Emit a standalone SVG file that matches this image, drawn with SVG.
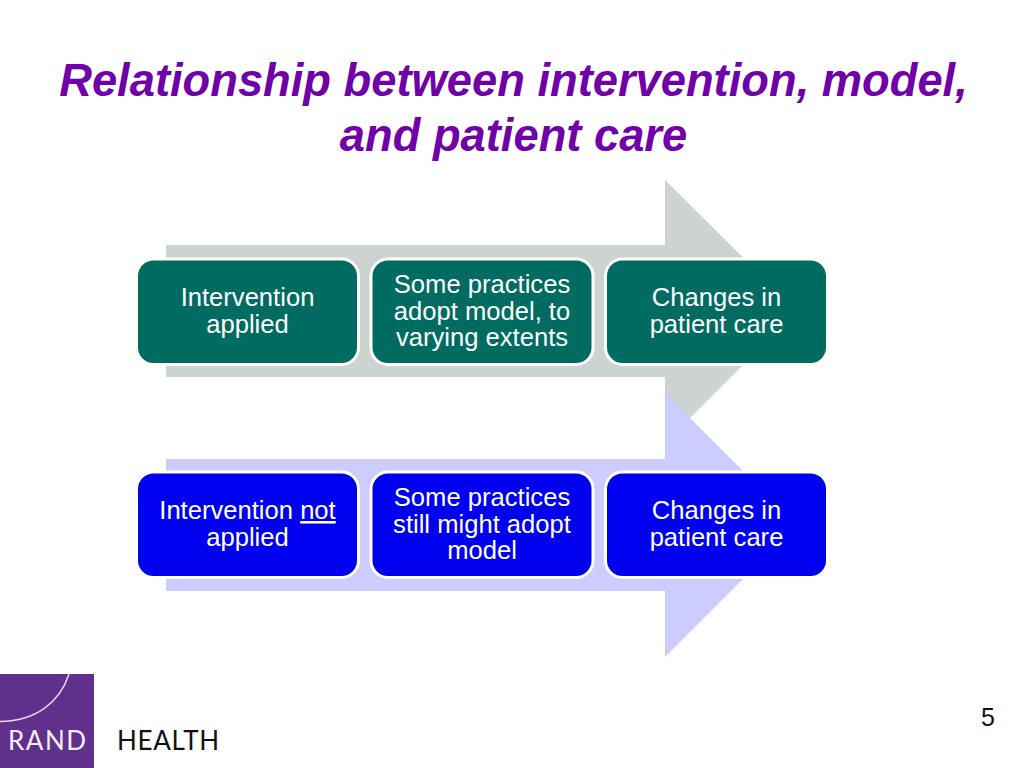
<svg xmlns="http://www.w3.org/2000/svg" width="1024" height="768" viewBox="0 0 1024 768">
<style>
text{font-family:"Liberation Sans",Arial,sans-serif}
.t{font-size:45.300px;font-weight:bold;font-style:italic;fill:#7000a8;text-anchor:middle}
.l{font-size:25.600px;fill:#fff;text-anchor:middle}
.g{fill:#006b61;stroke:#fff;stroke-width:3}
.b{fill:#0000f0;stroke:#fff;stroke-width:3}
.m{font-size:26px;font-family:Lato,sans-serif}
</style>
<rect width="1024" height="768" fill="#fff"/>
<g id="title">
<text class="t" x="513.500" y="96">Relationship between intervention, model,</text>
<text class="t" x="513.500" y="151">and patient care</text>
</g>
<g id="connectors">
<polygon fill="#ccd3d1" points="166,245 665,245 665,180 797,311 665,443 665,377 166,377"/>
<polygon fill="#ccccff" points="166,459 665,459 665,393 797,525 665,657 665,591 166,591"/>
</g>
<g id="n1"><rect class="g" x="136.500" y="259" width="222" height="105.500" rx="17"/>
<text class="l" x="247.500" y="306">Intervention</text><text class="l" x="247.500" y="333">applied</text></g>
<g id="n2"><rect class="g" x="371" y="259" width="222" height="105.500" rx="17"/>
<text class="l" x="482" y="293">Some practices</text><text class="l" x="482" y="320">adopt model, to</text><text class="l" x="482" y="346">varying extents</text></g>
<g id="n3"><rect class="g" x="605.500" y="259" width="222" height="105.500" rx="17"/>
<text class="l" x="716.500" y="306">Changes in</text><text class="l" x="716.500" y="333">patient care</text></g>
<g id="n4"><rect class="b" x="136.500" y="472" width="222" height="105.500" rx="17"/>
<text class="l" x="247.500" y="519">Intervention <tspan text-decoration="underline">not</tspan></text><text class="l" x="247.500" y="546">applied</text></g>
<g id="n5"><rect class="b" x="371" y="472" width="222" height="105.500" rx="17"/>
<text class="l" x="482" y="506">Some practices</text><text class="l" x="482" y="533">still might adopt</text><text class="l" x="482" y="559">model</text></g>
<g id="n6"><rect class="b" x="605.500" y="472" width="222" height="105.500" rx="17"/>
<text class="l" x="716.500" y="519">Changes in</text><text class="l" x="716.500" y="546">patient care</text></g>
<g id="logo">
<rect x="0" y="674" width="94" height="94" fill="#60308c"/>
<path d="M69,674 C60,702 36,721 0,721.500" fill="none" stroke="#e6d8ee" stroke-width="1.500"/>
<text class="m" x="8" y="750" letter-spacing="1.500" fill="#f4eef8">RAND</text>
<text class="m" x="117" y="750" letter-spacing="0.700" fill="#111">HEALTH</text>
</g>
<text id="page" x="988" y="726" font-size="25" fill="#111" text-anchor="middle">5</text>
</svg>
